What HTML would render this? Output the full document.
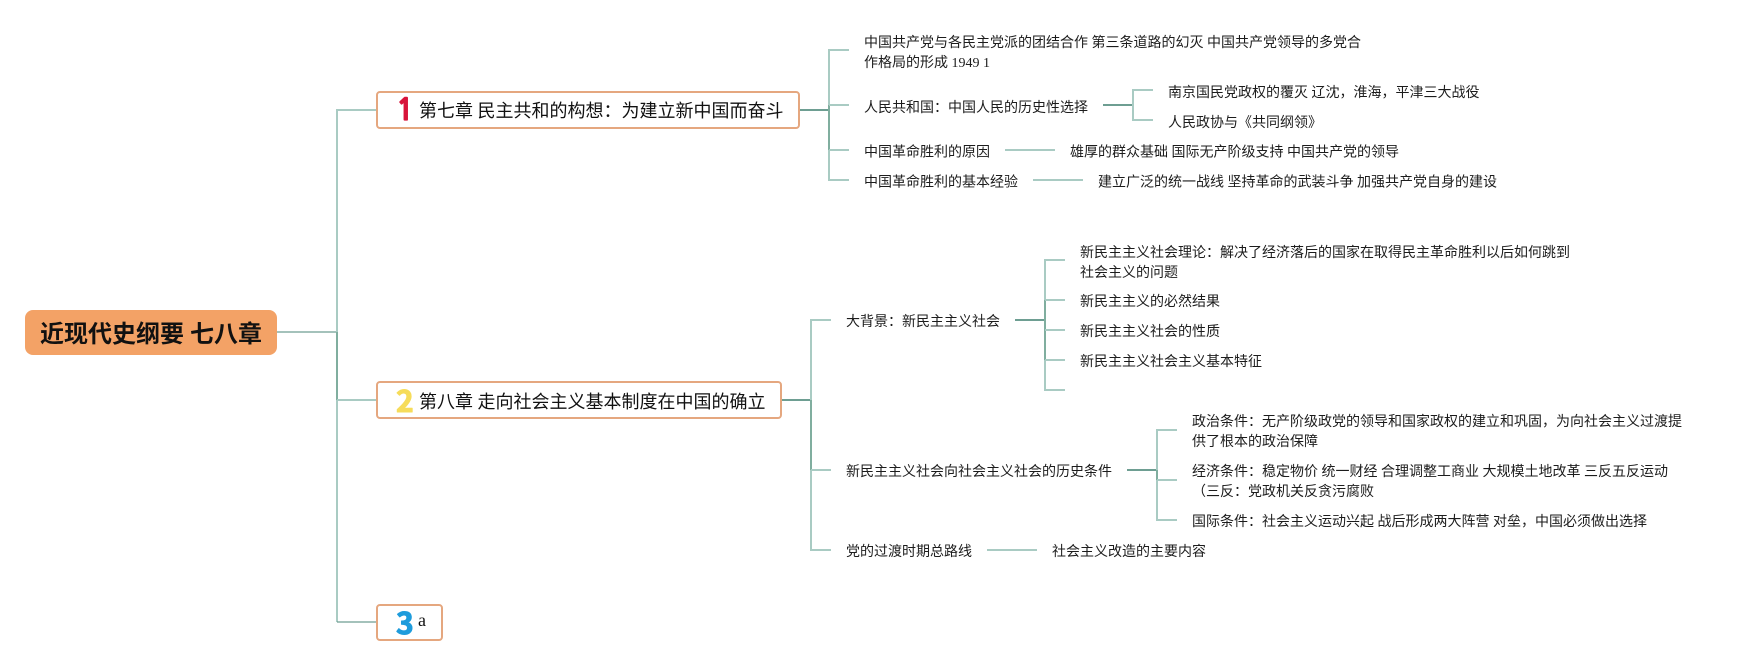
<!DOCTYPE html>
<html lang="zh"><head><meta charset="utf-8"><title>近现代史纲要 七八章</title>
<style>
html,body{margin:0;padding:0;background:#fff;width:1752px;height:665px;overflow:hidden}
svg{display:block}
text{font-family:"Liberation Serif","Noto Sans CJK SC",sans-serif;fill:#1c1c1c;font-size:14px;white-space:pre}
.l{stroke:#a9cbc3;stroke-width:2;fill:none}
.d{stroke:#80ae9f;stroke-width:2;fill:none}
.m{stroke:#6e9e92;stroke-width:2;fill:none}
.t{stroke:#6e9e92;stroke-width:1.2;fill:none}
.box{fill:#fff;stroke:#e5a77f;stroke-width:2}
.h{font-size:18px;fill:#111}
.n{font-family:"Noto Sans CJK SC",sans-serif;font-weight:700;stroke-width:1;stroke-linejoin:round}
</style></head><body>
<svg width="1752" height="665" viewBox="0 0 1752 665" xmlns="http://www.w3.org/2000/svg">
<path class="t" d="M277 332H337"/>
<path class="l" d="M376 110H337V332"/>
<path class="d" d="M337 332V400"/>
<path class="l" d="M376 400H337M337 400V622"/>
<path class="t" d="M337 622H376"/>
<path class="m" d="M800 110H829"/>
<path class="l" d="M849 50H829V105M829 150V180H849"/>
<path class="d" d="M829 105V150"/>
<path class="l" d="M829 105H849M829 150H849"/>
<path class="m" d="M1103 105H1133"/>
<path class="l" d="M1153 90H1133V120H1153"/>
<path class="l" d="M1005 150H1055M1033 180H1083"/>
<path class="m" d="M782 400H811"/>
<path class="l" d="M831 320H811V400M811 470V550H831"/>
<path class="d" d="M811 400V470"/>
<path class="l" d="M811 470H831"/>
<path class="m" d="M1015 320H1045"/>
<path class="l" d="M1065 260H1045V300M1045 360V390H1065"/>
<path class="d" d="M1045 300V360"/>
<path class="l" d="M1045 300H1065M1045 330H1065M1045 360H1065"/>
<path class="m" d="M1127 470H1157"/>
<path class="l" d="M1177 430H1157V470M1157 480V520H1177"/>
<path class="d" d="M1157 470V480"/>
<path class="l" d="M1157 480H1177"/>
<path class="l" d="M987 550H1037"/>

<rect x="25" y="310" width="252" height="45" rx="8" fill="#f3a266"/>
<text x="40" y="342" style="font-size:24px;font-weight:700;fill:#111">近现代史纲要 七八章</text>

<rect class="box" x="377" y="92" width="422" height="36" rx="3"/>
<text x="396" y="120" style="font-family:NanumGothic,sans-serif;font-weight:700;font-size:30px;fill:#d8143a;stroke:#d8143a;stroke-width:1.2;stroke-linejoin:round">1</text>
<text class="h" x="419" y="117">第七章 民主共和的构想：为建立新中国而奋斗</text>

<rect class="box" x="377" y="382" width="404" height="36" rx="3"/>
<text class="n" x="396" y="412" style="font-size:30px;fill:#f6dc5a;stroke:#f6dc5a">2</text>
<text class="h" x="419" y="408">第八章 走向社会主义基本制度在中国的确立</text>

<rect class="box" x="377" y="605" width="65" height="35" rx="3"/>
<text class="n" x="396" y="634" style="font-size:30px;fill:#1e9cdc;stroke:#1e9cdc">3</text>
<text class="h" x="418" y="626">a</text>

<text x="864" y="47">中国共产党与各民主党派的团结合作 第三条道路的幻灭 中国共产党领导的多党合</text>
<text x="864" y="67">作格局的形成 1949 1</text>
<text x="864" y="112">人民共和国：中国人民的历史性选择</text>
<text x="1168" y="97">南京国民党政权的覆灭 辽沈，淮海，平津三大战役</text>
<text x="1168" y="127">人民政协与《共同纲领》</text>
<text x="864" y="156.5">中国革命胜利的原因</text>
<text x="1070" y="156.5">雄厚的群众基础 国际无产阶级支持 中国共产党的领导</text>
<text x="864" y="186.5">中国革命胜利的基本经验</text>
<text x="1098" y="186.5">建立广泛的统一战线 坚持革命的武装斗争 加强共产党自身的建设</text>

<text x="846" y="326">大背景：新民主主义社会</text>
<text x="1080" y="257">新民主主义社会理论：解决了经济落后的国家在取得民主革命胜利以后如何跳到</text>
<text x="1080" y="277">社会主义的问题</text>
<text x="1080" y="306">新民主主义的必然结果</text>
<text x="1080" y="336">新民主主义社会的性质</text>
<text x="1080" y="366">新民主主义社会主义基本特征</text>

<text x="846" y="476">新民主主义社会向社会主义社会的历史条件</text>
<text x="1192" y="426">政治条件：无产阶级政党的领导和国家政权的建立和巩固，为向社会主义过渡提</text>
<text x="1192" y="446">供了根本的政治保障</text>
<text x="1192" y="476">经济条件：稳定物价 统一财经 合理调整工商业 大规模土地改革 三反五反运动</text>
<text x="1192" y="496">（三反：党政机关反贪污腐败</text>
<text x="1192" y="526">国际条件：社会主义运动兴起 战后形成两大阵营 对垒，中国必须做出选择</text>

<text x="846" y="556">党的过渡时期总路线</text>
<text x="1052" y="556">社会主义改造的主要内容</text>
</svg>
</body></html>
